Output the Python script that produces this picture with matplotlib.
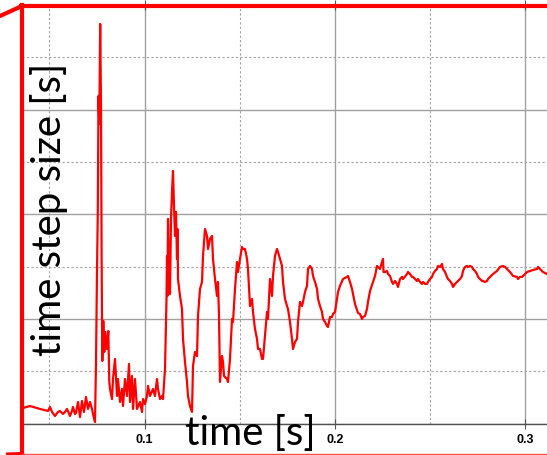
import matplotlib
matplotlib.use('Agg')
import matplotlib.pyplot as plt
from matplotlib.lines import Line2D
from matplotlib.ticker import MultipleLocator

# simulation time [s]
t = [0.03614, 0.03982, 0.04507, 0.04928, 0.05033, 0.05138, 0.05296, 0.05453, 0.05558, 0.05716,
     0.05821, 0.05926, 0.06084, 0.06189, 0.06242, 0.06347, 0.06399, 0.06505, 0.06610, 0.06715,
     0.06820, 0.06925, 0.07030, 0.07135, 0.07240, 0.07293, 0.07398, 0.07451, 0.07503, 0.07545,
     0.07582, 0.07624, 0.07671, 0.07714, 0.07745, 0.07782, 0.07834, 0.07887, 0.07940, 0.08029,
     0.08097, 0.08150, 0.08187, 0.08292, 0.08344, 0.08449, 0.08555, 0.08607, 0.08712, 0.08817,
     0.08870, 0.08975, 0.09080, 0.09133, 0.09185, 0.09238, 0.09343, 0.09396, 0.09501, 0.09606,
     0.09763, 0.09869, 0.09921, 0.10026, 0.10131, 0.10184, 0.10289, 0.10447, 0.10552, 0.10657,
     0.10710, 0.10815, 0.10920, 0.10972, 0.11078, 0.11156, 0.11183, 0.11209, 0.11235, 0.11288,
     0.11340, 0.11393, 0.11445, 0.11498, 0.11551, 0.11603, 0.11656, 0.11708, 0.11735, 0.11761,
     0.11866, 0.11971, 0.12024, 0.12129, 0.12234, 0.12286, 0.12392, 0.12497, 0.12549, 0.12654,
     0.12760, 0.12812, 0.12917, 0.13022, 0.13075, 0.13180, 0.13285, 0.13338, 0.13443, 0.13548,
     0.13600, 0.13706, 0.13811, 0.13863, 0.13916, 0.13968, 0.14074, 0.14126, 0.14179, 0.14336,
     0.14389, 0.14494, 0.14599, 0.14652, 0.14757, 0.14862, 0.14915, 0.15020, 0.15125, 0.15177,
     0.15283, 0.15388, 0.15440, 0.15545, 0.15650, 0.15703, 0.15808, 0.15913, 0.15966, 0.16071,
     0.16176, 0.16229, 0.16334, 0.16439, 0.16491, 0.16597, 0.16702, 0.16754, 0.16859, 0.16965,
     0.17017, 0.17122, 0.17227, 0.17280, 0.17385, 0.17490, 0.17543, 0.17648, 0.17753, 0.17806,
     0.17911, 0.18016, 0.18068, 0.18173, 0.18279, 0.18331, 0.18436, 0.18541, 0.18594, 0.18699,
     0.18804, 0.18857, 0.18962, 0.19067, 0.19120, 0.19225, 0.19330, 0.19382, 0.19488, 0.19593,
     0.19645, 0.19750, 0.19855, 0.19908, 0.20013, 0.20118, 0.20171, 0.20276, 0.20434, 0.20644,
     0.20697, 0.20802, 0.20907, 0.20959, 0.21064, 0.21170, 0.21222, 0.21327, 0.21432, 0.21485,
     0.21590, 0.21695, 0.21748, 0.21853, 0.21958, 0.22011, 0.22116, 0.22221, 0.22274, 0.22379,
     0.22484, 0.22536, 0.22563, 0.22641, 0.22747, 0.22799, 0.22904, 0.23009, 0.23062, 0.23167,
     0.23272, 0.23325, 0.23430, 0.23535, 0.23587, 0.23798, 0.23850, 0.23955, 0.24060, 0.24113,
     0.24218, 0.24323, 0.24376, 0.24481, 0.24586, 0.24638, 0.24744, 0.24849, 0.24901, 0.25007,
     0.25112, 0.25164, 0.25269, 0.25375, 0.25427, 0.25532, 0.25637, 0.25690, 0.25795, 0.25900,
     0.25953, 0.26058, 0.26163, 0.26216, 0.26321, 0.26426, 0.26478, 0.26583, 0.26689, 0.26741,
     0.26846, 0.26951, 0.27004, 0.27109, 0.27214, 0.27267, 0.27372, 0.27477, 0.27530, 0.27635,
     0.27740, 0.27792, 0.27898, 0.28003, 0.28055, 0.28160, 0.28318, 0.28528, 0.28686, 0.28843,
     0.28949, 0.29054, 0.29212, 0.29369, 0.29580, 0.29632, 0.29737, 0.29842, 0.29895, 0.30105,
     0.30263, 0.30420, 0.30631, 0.30683, 0.30788, 0.30946, 0.31156]

# time step size (arbitrary units, major grid = 10)
dt = [1.48, 1.67, 1.39, 1.20, 1.58, 1.10, 0.72, 1.10, 1.20, 0.91,
      1.10, 1.39, 0.72, 1.20, 1.58, 0.91, 1.00, 2.06, 0.62, 2.15,
      1.10, 2.53, 1.39, 2.06, 1.39, 0.91, 0.14, 5.88, 14.48, 20.22,
      31.31, 28.63, 38.19, 30.54, 16.01, 5.98, 9.80, 6.84, 8.75, 7.12,
      8.84, 3.97, 3.30, 2.34, 4.25, 6.17, 2.63, 4.25, 2.06, 3.30,
      1.67, 4.25, 2.63, 4.25, 5.69, 2.06, 4.54, 1.39, 4.25, 1.39,
      2.06, 1.10, 2.34, 1.86, 2.63, 3.59, 2.63, 3.30, 2.63, 4.25,
      3.30, 2.34, 2.63, 2.34, 5.21, 11.90, 16.01, 12.19, 19.55, 14.77,
      12.38, 19.55, 22.13, 24.14, 20.79, 17.93, 20.22, 15.73, 18.59, 13.81,
      12.19, 10.95, 8.08, 5.88, 3.97, 2.63, 1.67, 1.10, 5.50, 6.84,
      6.45, 10.28, 12.86, 13.53, 16.01, 18.59, 17.93, 16.68, 17.64, 17.93,
      15.73, 13.81, 12.19, 13.53, 10.28, 3.97, 6.45, 5.88, 4.54, 4.25,
      3.97, 6.17, 9.99, 9.70, 12.86, 15.44, 14.48, 15.73, 16.87, 16.68,
      16.68, 15.73, 14.77, 11.23, 11.90, 10.66, 9.03, 8.08, 7.12, 7.12,
      6.17, 6.17, 8.37, 10.66, 9.99, 13.81, 12.19, 14.10, 16.01, 16.68,
      16.40, 15.73, 15.06, 13.53, 11.90, 11.23, 10.95, 9.70, 8.08, 7.12,
      7.79, 8.08, 9.70, 11.62, 11.23, 11.62, 12.57, 13.15, 14.77, 15.06,
      14.77, 14.10, 13.53, 12.86, 11.90, 11.23, 10.66, 9.99, 9.70, 9.32,
      9.23, 10.18, 10.18, 10.47, 10.66, 11.90, 12.57, 13.15, 13.81, 14.01,
      14.10, 13.53, 12.86, 12.38, 11.42, 10.85, 10.56, 10.47, 9.99, 10.18,
      10.28, 10.95, 11.62, 12.67, 13.24, 13.53, 14.10, 15.06, 14.96, 14.77,
      15.44, 15.73, 14.48, 14.48, 14.58, 14.29, 14.10, 13.53, 13.34, 13.62,
      13.34, 13.05, 13.81, 14.01, 13.81, 14.29, 14.48, 14.29, 14.01, 14.01,
      13.81, 13.62, 13.81, 13.53, 13.34, 13.53, 13.34, 13.34, 13.53, 13.81,
      14.01, 14.29, 14.58, 14.77, 15.06, 14.96, 15.25, 14.77, 14.48, 14.01,
      13.81, 13.62, 13.34, 13.05, 13.34, 13.53, 13.62, 13.81, 14.10, 14.58,
      14.96, 15.06, 14.96, 15.06, 14.96, 14.77, 14.58, 14.29, 14.01, 13.81,
      13.62, 13.62, 13.53, 13.62, 13.81, 14.01, 14.29, 14.58, 14.96, 15.06,
      14.96, 14.77, 14.48, 14.10, 14.01, 13.81, 14.01, 14.01, 14.10, 14.48,
      14.58, 14.67, 14.77, 14.96, 14.77, 14.48, 14.29]

xticks = [0.1, 0.2, 0.3]
xtick_labels = ["0.1", "0.2", "0.3"]

W, H = 547, 456

def fx(px):
    return px / W

def fy(py):
    return (H - py) / H

fig = plt.figure(figsize=(W / 100, H / 100), dpi=100)
ax = fig.add_axes([fx(22), fy(424.5), fx(547) - fx(22), fy(6) - fy(424.5)])

ax.plot(t, dt, color='#ff0000', lw=1.6, zorder=3)

ax.set_xlim(0.03561, 0.31156)
ax.set_ylim(0, 40)

ax.xaxis.set_major_locator(MultipleLocator(0.1))
ax.xaxis.set_minor_locator(MultipleLocator(0.05))
ax.yaxis.set_major_locator(MultipleLocator(10))
ax.yaxis.set_minor_locator(MultipleLocator(5))
ax.set_xticks(xticks)
ax.set_xticklabels(xtick_labels, fontfamily='Liberation Sans', fontweight='bold', fontsize=9)
ax.set_yticklabels([])

ax.grid(which='major', color='#a0a0a0', lw=1.0, ls='-', zorder=1)
ax.grid(which='minor', color='#a0a0a0', lw=0.8, ls=(0, (2, 2)), zorder=1)
ax.set_axisbelow(True)

ax.tick_params(axis='x', which='major', direction='inout', length=7, width=0.8,
               color='#555555', top=True, pad=3.5)
ax.tick_params(axis='x', which='minor', length=0)
ax.tick_params(axis='y', which='both', length=0)

for side in ['top', 'left', 'right']:
    ax.spines[side].set_visible(False)
ax.spines['bottom'].set_color('#505050')
ax.spines['bottom'].set_linewidth(1.0)

# ylabel / xlabel drawn over the plot area like in the screenshot
fig.text(fx(49), fy(209), "time step size [s]", rotation=90, ha='center', va='center',
         fontfamily='Lato', fontsize=29, color='black')
fig.text(fx(185), fy(445), "time [s]", ha='left', va='baseline',
         fontfamily='Lato', fontsize=29, color='black')

# red annotation frame
red = '#ff0000'
fig.add_artist(Line2D([fx(21), fx(547)], [fy(7), fy(7)], color=red, lw=3, transform=fig.transFigure))
fig.add_artist(Line2D([fx(22), fx(22)], [fy(6), fy(456)], color=red, lw=3, transform=fig.transFigure))
fig.add_artist(Line2D([fx(0), fx(22)], [fy(17), fy(7)], color=red, lw=3, transform=fig.transFigure))
fig.add_artist(Line2D([fx(8), fx(22)], [fy(455.5), fy(455)], color=red, lw=3, transform=fig.transFigure))
fig.add_artist(Line2D([fx(22), fx(547)], [fy(455), fy(455)], color='#ff5050', lw=1, transform=fig.transFigure))

fig.savefig('out.png', dpi=100)
